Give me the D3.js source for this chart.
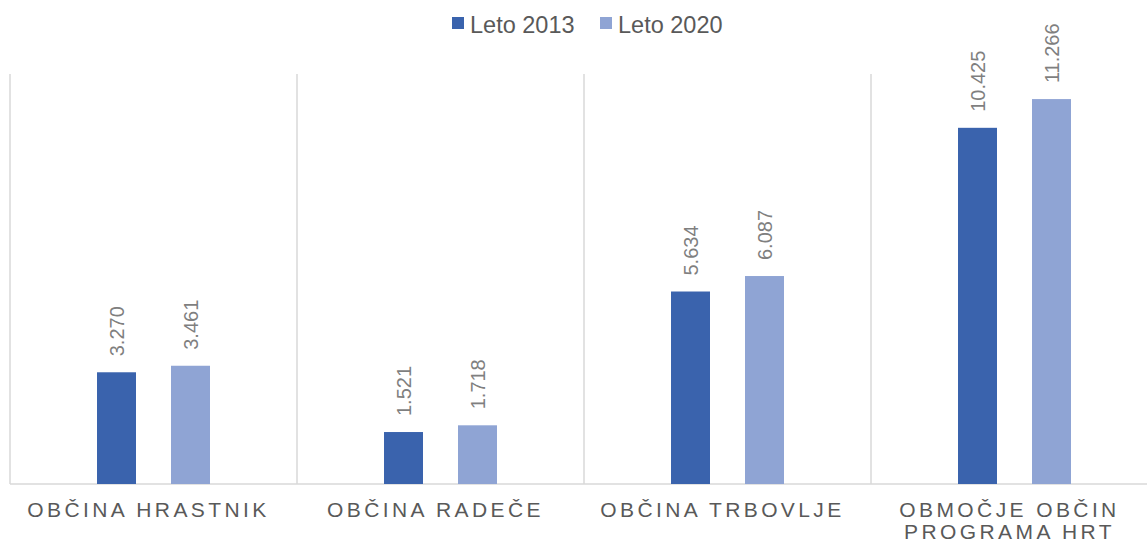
<!DOCTYPE html>
<html lang="sl">
<head>
    <meta charset="UTF-8">
    <title>Leto 2013 / Leto 2020</title>
    <script src="https://d3js.org/d3.v7.min.js"></script>
    <style>
        body { margin: 0; background: #fff; }
        svg { display: block; font-family: "Liberation Sans", Arial, sans-serif; }
    </style>
</head>
<body>
<svg id="graf" width="1147" height="543"></svg>
<script>
// podatki
const kategorije = ["OBČINA HRASTNIK", "OBČINA RADEČE", "OBČINA TRBOVLJE", "OBMOČJE OBČIN PROGRAMA HRT"];
const serije = ["Leto 2013", "Leto 2020"];
const leto2013 = [3270, 1521, 5634, 10425];
const leto2020 = [3461, 1718, 6087, 11266];
const barve = ["#3a63ad", "#8fa4d4"];

const svg = d3.select("#graf");

const vrh = 74, dno = 484, levo = 10, korak = 287;

const x = d3.scaleBand()
    .domain(kategorije)
    .range([levo, levo + korak * kategorije.length])
    .padding(0);

const xSerija = d3.scaleBand()
    .domain(serije)
    .range([0, x.bandwidth()])
    .paddingInner(0.473)
    .paddingOuter(1.176);

const y = d3.scaleLinear().domain([0, 12000]).range([dno, vrh]);

const fmt = d3.formatLocale({ decimal: ",", thousands: ".", grouping: [3], currency: ["", " €"] }).format(",.0f");

// navpične mrežne črte
svg.append("g")
    .selectAll("line")
    .data(kategorije)
    .join("line")
    .attr("x1", d => x(d)).attr("x2", d => x(d))
    .attr("y1", vrh).attr("y2", dno)
    .attr("stroke", "#d9d9d9").attr("stroke-width", 1.5);

// os x
svg.append("line")
    .attr("x1", levo).attr("x2", 1147)
    .attr("y1", dno).attr("y2", dno)
    .attr("stroke", "#d9d9d9").attr("stroke-width", 1.5);

const podatki = kategorije.flatMap((k, i) => [
    { kat: k, serija: serije[0], v: leto2013[i] },
    { kat: k, serija: serije[1], v: leto2020[i] }
]);

svg.append("g")
    .selectAll("rect")
    .data(podatki)
    .join("rect")
    .attr("x", d => x(d.kat) + xSerija(d.serija))
    .attr("width", xSerija.bandwidth())
    .attr("y", d => y(d.v))
    .attr("height", d => dno - y(d.v))
    .attr("fill", d => barve[serije.indexOf(d.serija)]);

// vrednosti
svg.append("g")
    .selectAll("text")
    .data(podatki)
    .join("text")
    .attr("transform", d => `translate(${x(d.kat) + xSerija(d.serija) + xSerija.bandwidth() / 2},${y(d.v) - 16}) rotate(-90)`)
    .attr("dy", "0.36em")
    .attr("font-size", 20)
    .attr("fill", "#7f7f7f")
    .text(d => fmt(d.v));

// oznake kategorij (prelom v dve vrstici, če je predolgo)
const oznake = svg.append("g")
    .selectAll("text")
    .data(kategorije)
    .join("text")
    .attr("x", d => x(d) + x.bandwidth() / 2)
    .attr("y", 517)
    .attr("text-anchor", "middle")
    .attr("font-size", 21)
    .attr("letter-spacing", 3.4)
    .attr("fill", "#595959");

oznake.each(function(d) {
    const besede = d.split(" ");
    const vrstice = besede.length > 3 ? [besede.slice(0, 2).join(" "), besede.slice(2).join(" ")] : [d];
    d3.select(this).selectAll("tspan")
        .data(vrstice)
        .join("tspan")
        .attr("x", x(d) + x.bandwidth() / 2 - 5)
        .attr("dy", (v, i) => i === 0 ? 0 : 22)
        .text(v => v);
});

// legenda
const legenda = svg.append("g")
    .selectAll("g")
    .data(serije)
    .join("g")
    .attr("transform", (d, i) => `translate(${452 + i * 148},17)`);

legenda.append("rect")
    .attr("width", 12).attr("height", 12)
    .attr("fill", (d, i) => barve[i]);

legenda.append("text")
    .attr("x", 18).attr("y", 15.5)
    .attr("font-size", 23.5)
    .attr("fill", "#595959")
    .text(d => d);
</script>
</body>
</html>
